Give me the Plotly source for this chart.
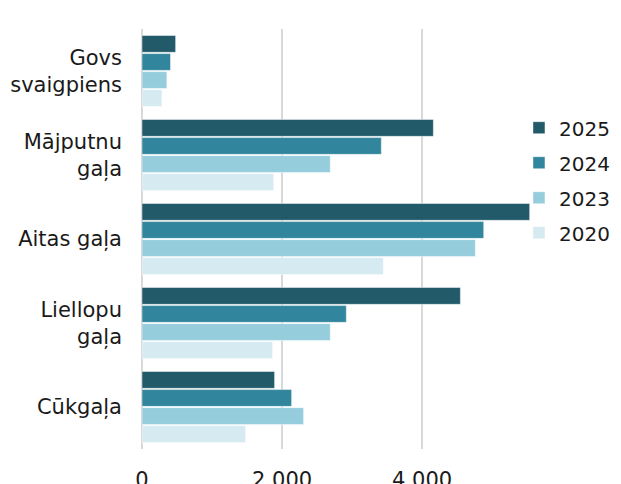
import plotly.graph_objects as go

categories = ["Govs<br>svaigpiens", "Mājputnu<br>gaļa", "Aitas gaļa", "Liellopu<br>gaļa", "Cūkgaļa"]
series_names = ["2025", "2024", "2023", "2020"]
values_2025 = [480, 4160, 5535, 4546, 1893]
values_2024 = [407, 3417, 4879, 2917, 2136]
values_2023 = [355, 2688, 4760, 2688, 2307]
values_2020 = [284, 1879, 3445, 1864, 1479]
tick_vals = [0, 2000, 4000]
tick_text = ["0", "2 000", "4 000"]
colors = ["#225a69", "#31869d", "#96cddd", "#d5eaf1"]

series_values = [values_2025, values_2024, values_2023, values_2020]

fig = go.Figure()
for name, vals, col in zip(series_names, series_values, colors):
    fig.add_trace(go.Bar(
        y=categories, x=vals, name=name, orientation="h",
        marker=dict(color=col, line=dict(color="rgba(255,255,255,0.45)", width=1)),
        legendgroup=name,
    ))

font_family = "DejaVu Sans"
fig.update_layout(
    width=621, height=484,
    margin=dict(l=134, r=99, t=21, b=43, autoexpand=False),
    paper_bgcolor="white", plot_bgcolor="white",
    barmode="group", bargap=0.14, bargroupgap=0.07,
    font=dict(family=font_family, size=21, color="#1a1a1a"),
    showlegend=True,
    legend=dict(x=0.9716, xanchor="left", y=0.64, yanchor="middle",
                font=dict(size=20, color="#1a1a1a"), tracegroupgap=6,
                bgcolor="rgba(0,0,0,0)"),
    xaxis=dict(range=[0, 5540], tickvals=tick_vals, ticktext=tick_text,
               automargin=False,
               showgrid=True, gridcolor="#d9d9d9", gridwidth=2,
               zeroline=True, zerolinecolor="#d9d9d9", zerolinewidth=2,
               showline=False, ticks="outside", ticklen=12, tickcolor="rgba(0,0,0,0)",
               tickfont=dict(size=21, color="#1a1a1a")),
    yaxis=dict(autorange="reversed", showgrid=False, showline=False,
               automargin=False,
               ticks="", ticklabelstandoff=19,
               tickfont=dict(size=21, color="#1a1a1a")),
)

fig.write_html("out.html")
